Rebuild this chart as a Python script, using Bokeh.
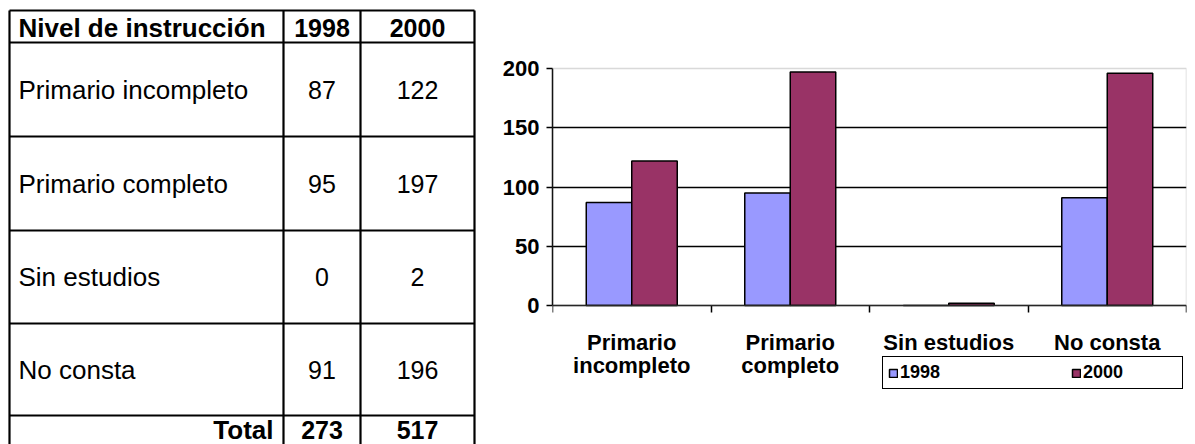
from bokeh.plotting import figure
from bokeh.layouts import row
from bokeh.models import (Range1d, LinearAxis, FixedTicker, Grid, Legend, LegendItem,
                          ColumnDataSource, BoxAnnotation)
from bokeh.transform import dodge
from bokeh.core.properties import value
from bokeh.embed import file_html
from bokeh.resources import INLINE

# ---------------- data ----------------
header = ["Nivel de instrucción", "1998", "2000"]
categories = ["Primario incompleto", "Primario completo", "Sin estudios", "No consta"]
axis_labels = ["Primario\nincompleto", "Primario\ncompleto", "Sin estudios", "No consta"]
v1998 = [87, 95, 0, 91]
v2000 = [122, 197, 2, 196]
total_label = "Total"
totals = [273, 517]
y_ticks = [0, 50, 100, 150, 200]
years = ["1998", "2000"]

FONT_NAME = "Liberation Sans"
FONT = value(FONT_NAME)
C98 = "#9999FF"
C00 = "#993366"

H = 444
TBL_W = 480

# ---------------- table (drawn in page-pixel coordinates) ----------------
tbl = figure(width=TBL_W, height=H, x_range=Range1d(0, TBL_W), y_range=Range1d(H, 0),
             x_axis_type=None, y_axis_type=None, output_backend="svg",
             toolbar_location=None, min_border=0)
tbl.grid.visible = False
tbl.outline_line_color = None

col_edges = [9, 283, 360, 474]
row_edges = [10, 42, 136, 230, 323, 415, 449]

tbl.segment(x0=[col_edges[0]] * len(row_edges), x1=[col_edges[-1]] * len(row_edges),
            y0=row_edges, y1=row_edges, line_color="black", line_width=2.2)
tbl.segment(x0=col_edges, x1=col_edges, y0=[row_edges[0]] * len(col_edges),
            y1=[row_edges[-1]] * len(col_edges), line_color="black", line_width=2.2)

col_mid = [(col_edges[i] + col_edges[i + 1]) / 2 for i in range(3)]
row_mid = [(row_edges[i] + row_edges[i + 1]) / 2 for i in range(len(row_edges) - 1)]

TS = "26px"
NS = "25px"
# header
tbl.text(x=[col_edges[0] + 9], y=[row_mid[0] + 1], text=[header[0]], text_align="left",
         text_baseline="middle", text_font=FONT, text_font_size=TS, text_font_style="bold")
tbl.text(x=col_mid[1:], y=[row_mid[0] + 1] * 2, text=header[1:], text_align="center",
         text_baseline="middle", text_font=FONT, text_font_size=NS, text_font_style="bold")
# body
n = len(categories)
tbl.text(x=[col_edges[0] + 9] * n, y=row_mid[1:1 + n], text=categories, text_align="left",
         text_baseline="middle", text_font=FONT, text_font_size=TS)
tbl.text(x=[col_mid[1]] * n, y=row_mid[1:1 + n], text=[str(v) for v in v1998],
         text_align="center", text_baseline="middle", text_font=FONT, text_font_size=NS)
tbl.text(x=[col_mid[2]] * n, y=row_mid[1:1 + n], text=[str(v) for v in v2000],
         text_align="center", text_baseline="middle", text_font=FONT, text_font_size=NS)
# total row
tbl.text(x=[col_edges[1] - 10], y=[row_mid[-1] - 3], text=[total_label], text_align="right",
         text_baseline="middle", text_font=FONT, text_font_size=TS, text_font_style="bold")
tbl.text(x=col_mid[1:], y=[row_mid[-1] - 3] * 2, text=[str(t) for t in totals],
         text_align="center", text_baseline="middle", text_font=FONT, text_font_size=NS,
         text_font_style="bold")

# ---------------- bar chart ----------------
# plot area: y=0 at pixel 305 and y=200 at pixel 68 (frame covers full height 0..444)
Y0_PX, Y200_PX = 305, 68
per_px = 200 / (Y0_PX - Y200_PX)
y_lo = 0 - (H - Y0_PX) * per_px
y_hi = 200 + Y200_PX * per_px

p = figure(width=1195 - TBL_W, height=H, x_range=Range1d(0, len(categories)),
           y_range=Range1d(y_lo, y_hi), x_axis_type=None, y_axis_type=None,
           output_backend="svg", toolbar_location=None,
           min_border_left=72, min_border_right=9, min_border_top=0, min_border_bottom=0)
p.grid.visible = False
p.outline_line_color = None

grid = Grid(dimension=1, ticker=FixedTicker(ticks=[50, 100, 150]),
            grid_line_color="black", grid_line_width=1.5)
p.add_layout(grid)

# plot-area border (grey, as in the original)
p.add_layout(BoxAnnotation(left=0, right=len(categories), bottom=0, top=200,
                           fill_alpha=0, line_color="#808080", line_width=1.5))

yax = LinearAxis(ticker=FixedTicker(ticks=y_ticks), bounds=(0, 200), axis_line_width=1.5,
                 major_tick_line_width=1.5, major_tick_out=6, major_tick_in=0,
                 minor_tick_line_color=None, major_label_standoff=7,
                 major_label_text_font=FONT_NAME, major_label_text_font_size="22px",
                 major_label_text_font_style="bold", major_label_text_color="black")
p.add_layout(yax, "left")

bounds_ticks = list(range(len(categories) + 1))
xax_ticks = LinearAxis(ticker=FixedTicker(ticks=bounds_ticks), fixed_location=0,
                       axis_line_width=1.5, major_tick_line_width=1.5, major_tick_out=7,
                       major_tick_in=0, minor_tick_line_color=None,
                       major_label_overrides={t: "" for t in bounds_ticks},
                       major_label_standoff=0)
p.add_layout(xax_ticks, "below")

centers = [i + 0.5 for i in range(len(categories))]
xax_labels = LinearAxis(ticker=FixedTicker(ticks=centers), fixed_location=0,
                        axis_line_color=None, major_tick_line_color=None,
                        major_tick_out=0, minor_tick_line_color=None,
                        major_label_overrides={c: lab for c, lab in zip(centers, axis_labels)},
                        major_label_standoff=24, major_label_text_font=FONT_NAME,
                        major_label_text_font_size="22px", major_label_text_font_style="bold",
                        major_label_text_color="black", major_label_text_line_height=0.92)
p.add_layout(xax_labels, "below")

src = ColumnDataSource(dict(x=centers, v1998=v1998, v2000=v2000))
W = 0.287
r1 = p.vbar(x=dodge("x", -W / 2), top="v1998", width=W, source=src, fill_color=C98,
            line_color="black", line_width=1.5)
r2 = p.vbar(x=dodge("x", W / 2), top="v2000", width=W, source=src, fill_color=C00,
            line_color="black", line_width=1.5)

legend = Legend(items=[LegendItem(label=years[0], renderers=[r1]),
                       LegendItem(label=years[1], renderers=[r2])],
                orientation="horizontal", location=(330, 55),
                border_line_color="black", border_line_width=1.5, border_line_alpha=1.0,
                background_fill_alpha=1.0,
                padding=5, margin=0, spacing=77, label_width=94, label_height=17,
                glyph_width=10, glyph_height=10, label_standoff=2,
                label_text_font=FONT_NAME, label_text_font_size="18px",
                label_text_font_style="bold", label_text_color="black")
p.add_layout(legend)

layout = row(tbl, p)
open("out.html", "w").write(file_html(layout, INLINE))
